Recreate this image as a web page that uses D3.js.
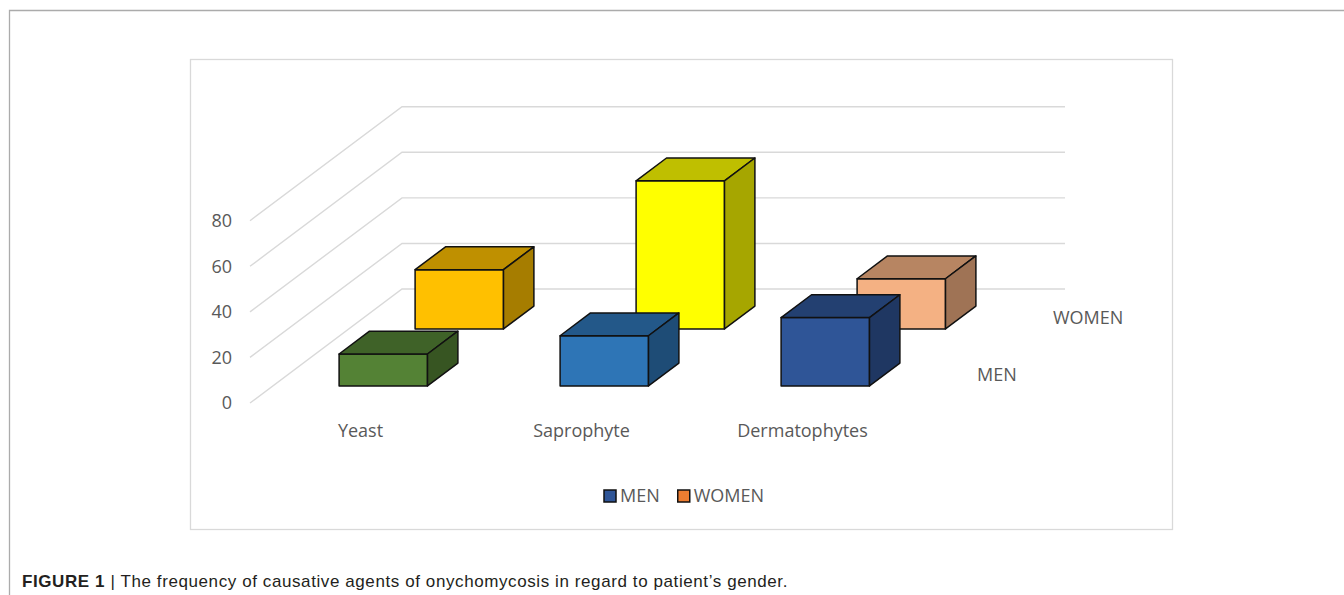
<!DOCTYPE html>
<html>
<head>
<meta charset="utf-8">
<script src="https://cdn.jsdelivr.net/npm/d3@7"></script>
<style>
  body { margin: 0; background: #fff; }
  svg { display: block; }
  text { font-family: "Open Sans", "DejaVu Sans", sans-serif; }
</style>
</head>
<body>
<svg id="chart" width="1344" height="595"></svg>
<script>
// Data
let categories = ["Yeast", "Saprophyte", "Dermatophytes"];
let series = ["MEN", "WOMEN"];
let menValues = [14, 22, 30];
let womenValues = [26, 65, 22];
let menColors = ["#548235", "#2E75B6", "#2F5597"];
let womenColors = ["#FFC000", "#FFFF00", "#F4B183"];
let legendColors = ["#2F5597", "#ED7D31"];
let yTicks = [0, 20, 40, 60, 80];

let svg = d3.select("#chart");
let labelSize = 18;

// Outer figure frame (top and left edge only)
svg.append("path")
    .attr("d", "M9.5,595 L9.5,10.5 L1344,10.5")
    .attr("fill", "none")
    .attr("stroke", "#ababab")
    .attr("stroke-width", 1.3);

// Chart area box
svg.append("rect")
    .attr("x", 190.5).attr("y", 59.5)
    .attr("width", 982).attr("height", 470)
    .attr("fill", "#fff")
    .attr("stroke", "#d9d9d9")
    .attr("stroke-width", 1.3);

// Oblique 3D projection
let originX = 250, originY = 403;   // front-left corner of the floor
let depthX = 152, depthY = 114;     // offset from front to back wall
let floorWidth = 663;

let x = d3.scaleBand().domain(categories).range([0, floorWidth]).paddingInner(0.6).paddingOuter(0.3);
let z = d3.scaleBand().domain(series).range([0, 1]).paddingInner(0.6).paddingOuter(0.3);
let y = d3.scaleLinear().domain([0, 80]).range([0, 182.3]);

function project(px, pz, v) {
    return [originX + px + pz * depthX, originY - pz * depthY - y(v)];
}

function shade(color, k) {
    let c = d3.rgb(color);
    return d3.rgb(c.r * k, c.g * k, c.b * k).formatHex();
}

// Gridlines: side wall diagonal + back wall horizontal
let grid = svg.append("g").attr("class", "grid");
yTicks.forEach(t => {
    let p0 = project(0, 0, t);
    let p1 = project(0, 1, t);
    let p2 = project(floorWidth, 1, t);
    grid.append("path")
        .attr("d", d3.line()([p0, p1, p2]))
        .attr("fill", "none")
        .attr("stroke", "#d9d9d9")
        .attr("stroke-width", 1.4);
});

// Value axis labels
let yAxis = svg.append("g").attr("class", "yAxis");
yTicks.forEach(t => {
    let p = project(0, 0, t);
    yAxis.append("text")
        .attr("x", p[0] - 18)
        .attr("y", p[1])
        .attr("dy", "0.35em")
        .attr("text-anchor", "end")
        .attr("font-size", labelSize)
        .attr("fill", "#595959")
        .text(t);
});

// Bars, back row first
let bars = [];
categories.forEach((c, i) => {
    bars.push({ cat: c, ser: "WOMEN", value: womenValues[i], color: womenColors[i] });
});
categories.forEach((c, i) => {
    bars.push({ cat: c, ser: "MEN", value: menValues[i], color: menColors[i] });
});

let boxes = svg.append("g").attr("class", "boxes");
bars.forEach(d => {
    let x0 = x(d.cat), x1 = x0 + x.bandwidth();
    let z0 = z(d.ser), z1 = z0 + z.bandwidth();
    let g = boxes.append("g");
    let front = [project(x0, z0, 0), project(x1, z0, 0), project(x1, z0, d.value), project(x0, z0, d.value)];
    let top = [project(x0, z0, d.value), project(x1, z0, d.value), project(x1, z1, d.value), project(x0, z1, d.value)];
    let side = [project(x1, z0, 0), project(x1, z1, 0), project(x1, z1, d.value), project(x1, z0, d.value)];
    [[front, 1], [top, 0.75], [side, 0.65]].forEach(f => {
        g.append("path")
            .attr("d", d3.line()(f[0]) + "Z")
            .attr("fill", shade(d.color, f[1]))
            .attr("stroke", "#111")
            .attr("stroke-width", 1.5)
            .attr("stroke-linejoin", "round");
    });
});

// Category labels
categories.forEach(c => {
    let p = project(x(c) + x.bandwidth() / 2, 0, 0);
    svg.append("text")
        .attr("x", p[0])
        .attr("y", p[1] + 28)
        .attr("dy", "0.35em")
        .attr("text-anchor", "middle")
        .attr("font-size", labelSize)
        .attr("fill", "#595959")
        .text(c);
});

// Series (depth axis) labels
series.forEach(s => {
    let p = project(floorWidth, z(s) + z.bandwidth() / 2, 0);
    svg.append("text")
        .attr("x", p[0] + 26)
        .attr("y", p[1])
        .attr("dy", "0.35em")
        .attr("font-size", labelSize)
        .attr("fill", "#595959")
        .text(s);
});

// Legend
let legend = svg.append("g").attr("transform", "translate(604,496)");
let lx = 0;
series.forEach((s, i) => {
    legend.append("rect")
        .attr("x", lx).attr("y", -6)
        .attr("width", 12).attr("height", 12)
        .attr("fill", legendColors[i])
        .attr("stroke", "#111")
        .attr("stroke-width", 1.5);
    let t = legend.append("text")
        .attr("x", lx + 16)
        .attr("y", 0)
        .attr("dy", "0.35em")
        .attr("font-size", labelSize)
        .attr("fill", "#595959")
        .text(s);
    lx += 16 + t.node().getComputedTextLength() + 18;
});

// Caption, stretched to the width it has in the figure
let caption = svg.append("text")
    .attr("x", 22)
    .attr("y", 587)
    .attr("font-size", 17)
    .attr("fill", "#231f20")
    .style("font-family", "'Liberation Sans', Arial, sans-serif");
caption.append("tspan").attr("font-weight", "bold").text("FIGURE 1");
caption.append("tspan").text(" | The frequency of causative agents of onychomycosis in regard to patient\u2019s gender.");
let capWidth = caption.node().getComputedTextLength();
let capChars = caption.text().length;
caption.style("letter-spacing", ((766 - capWidth) / capChars) + "px");
</script>
</body>
</html>
